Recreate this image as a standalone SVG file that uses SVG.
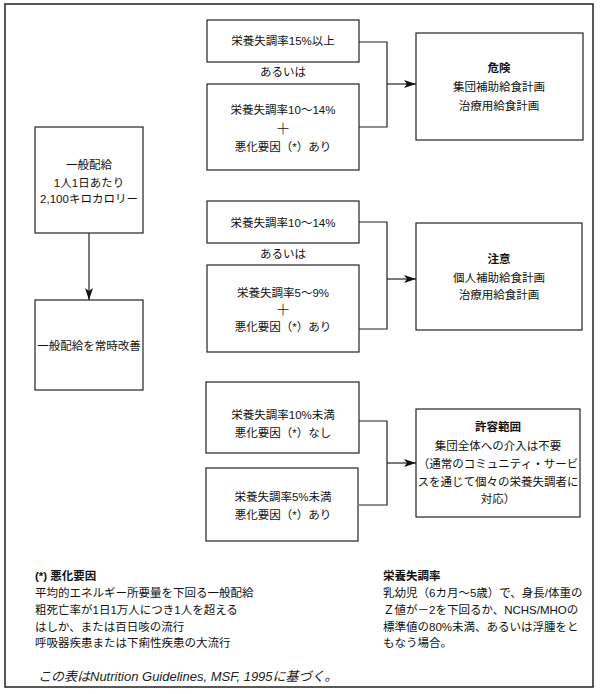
<svg xmlns="http://www.w3.org/2000/svg" width="600" height="694" viewBox="0 0 600 694">
<defs>
<style>
text{font-family:"Liberation Sans","Noto Sans CJK JP",sans-serif;font-size:11.5px;fill:#111;text-anchor:middle;dominant-baseline:central}
.b{font-weight:bold}
.l{text-anchor:start}
.i{font-style:italic;font-size:13px;fill:#222}
.p{font-size:15px;font-weight:300}
.box{fill:#fff;stroke:#222;stroke-width:1.2}
.c{fill:none;stroke:#222;stroke-width:1.2}
</style>
<marker id="ah" viewBox="0 0 12 8" refX="12" refY="4" markerWidth="12" markerHeight="8" markerUnits="userSpaceOnUse" orient="auto">
<path d="M0,0 L12,4 L0,8 L3,4 Z" fill="#111"/>
</marker>
</defs>
<rect x="5" y="4" width="588" height="683" fill="#fff" stroke="#222" stroke-width="1.5"/>

<g id="connectors">
<path class="c" d="M359,42 H387 V127 H359"/>
<line class="c" x1="387" y1="84" x2="416" y2="84" marker-end="url(#ah)"/>
<path class="c" d="M359,222 H387 V329 H359"/>
<line class="c" x1="387" y1="279" x2="416" y2="279" marker-end="url(#ah)"/>
<path class="c" d="M359,421 H387 V505 H359"/>
<line class="c" x1="387" y1="463" x2="416" y2="463" marker-end="url(#ah)"/>
<line class="c" x1="89" y1="233" x2="89" y2="300" marker-end="url(#ah)"/>
</g>

<g id="general">
<rect class="box" x="35" y="127" width="108" height="106"/>
<text x="89" y="165">一般配給</text>
<text x="89" y="183">1人1日あたり</text>
<text x="89" y="199">2,100キロカロリー</text>
</g>
<g id="improve">
<rect class="box" x="35" y="300" width="108" height="90"/>
<text x="89" y="346">一般配給を常時改善</text>
</g>

<g id="a1">
<rect class="box" x="207" y="20" width="152" height="42"/>
<text x="283" y="41">栄養失調率15%以上</text>
</g>
<text x="283" y="72">あるいは</text>
<g id="a2">
<rect class="box" x="207" y="84" width="152" height="86"/>
<text x="283" y="110">栄養失調率10～14%</text>
<text class="p" x="283" y="128">＋</text>
<text x="283" y="147">悪化要因（*）あり</text>
</g>
<g id="danger">
<rect class="box" x="416" y="33" width="167" height="107"/>
<text class="b" x="499" y="68">危険</text>
<text x="499" y="87">集団補助給食計画</text>
<text x="499" y="106">治療用給食計画</text>
</g>

<g id="b1">
<rect class="box" x="207" y="201" width="152" height="42"/>
<text x="283" y="223">栄養失調率10～14%</text>
</g>
<text x="283" y="254">あるいは</text>
<g id="b2">
<rect class="box" x="207" y="265" width="152" height="87"/>
<text x="283" y="293">栄養失調率5～9%</text>
<text class="p" x="283" y="309">＋</text>
<text x="283" y="327">悪化要因（*）あり</text>
</g>
<g id="caution">
<rect class="box" x="416" y="223" width="166" height="107"/>
<text class="b" x="499" y="259">注意</text>
<text x="499" y="278">個人補助給食計画</text>
<text x="499" y="295">治療用給食計画</text>
</g>

<g id="c1">
<rect class="box" x="206" y="382" width="153" height="71"/>
<text x="283" y="415">栄養失調率10%未満</text>
<text x="283" y="433">悪化要因（*）なし</text>
</g>
<g id="c2">
<rect class="box" x="206" y="468" width="152" height="73"/>
<text x="283" y="497">栄養失調率5%未満</text>
<text x="283" y="515">悪化要因（*）あり</text>
</g>
<g id="acceptable">
<rect class="box" x="416" y="409" width="164" height="108"/>
<text class="b" x="498" y="427">許容範囲</text>
<text x="498" y="446">集団全体への介入は不要</text>
<text x="498" y="464">（通常のコミュニティ・サービ</text>
<text x="498" y="482">スを通じて個々の栄養失調者に</text>
<text x="498" y="499">対応）</text>
</g>

<g id="notes">
<text class="l b" x="35" y="576">(*) 悪化要因</text>
<text class="l" x="35" y="593">平均的エネルギー所要量を下回る一般配給</text>
<text class="l" x="35" y="610">粗死亡率が1日1万人につき1人を超える</text>
<text class="l" x="35" y="627">はしか、または百日咳の流行</text>
<text class="l" x="35" y="643">呼吸器疾患または下痢性疾患の大流行</text>
<text class="l b" x="383" y="576">栄養失調率</text>
<text class="l" x="383" y="593">乳幼児（6カ月～5歳）で、身長/体重の</text>
<text class="l" x="383" y="610">Ｚ値が－2を下回るか、NCHS/MHOの</text>
<text class="l" x="383" y="627">標準値の80%未満、あるいは浮腫をと</text>
<text class="l" x="383" y="643">もなう場合。</text>
<text class="l i" x="38" y="676">この表はNutrition Guidelines, MSF, 1995に基づく。</text>
</g>
</svg>
